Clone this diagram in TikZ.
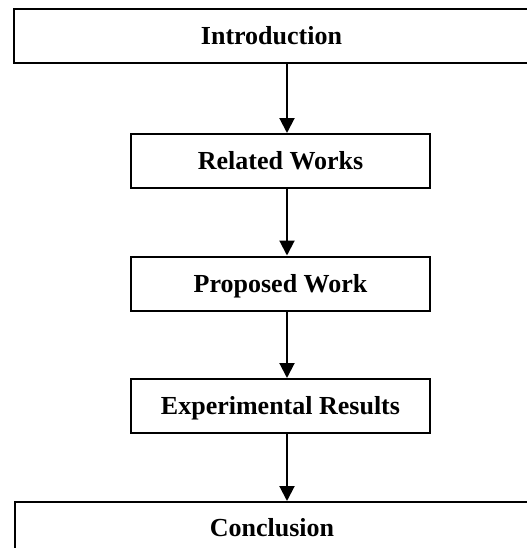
\documentclass[tikz,border=0pt]{standalone}
\usepackage{fontspec}
\setmainfont{Liberation Serif}
\usetikzlibrary{arrows.meta}

\begin{document}
\begin{tikzpicture}[x=0.5pt,y=-0.5pt,
    chapter/.style={draw,line width=1pt,minimum height=27pt,inner sep=0pt,
      text height=8.6pt,text depth=0pt,
      font=\fontsize{13}{15}\selectfont\bfseries},
    section/.style={chapter,minimum width=149.5pt},
    flow/.style={-{Triangle[length=7.5pt,width=7.5pt]},line width=1pt}]
  \clip (0,0) rectangle (527,548);

  \node[chapter,minimum width=257.5pt] (intro) at (271.5,36) {Introduction};
  \node[section] (related) at (280.5,161) {Related Works};
  \node[section] (proposed) at (280.5,283.5) {Proposed Work};
  \node[section] (results) at (280.5,406) {Experimental Results};
  \node[chapter,minimum width=257pt,minimum height=26pt] (concl) at (272,528) {Conclusion};

  \coordinate (col) at (287,0);
  \draw[flow] (intro.south -| col) -- (related.north -| col);
  \draw[flow] (related.south -| col) -- (proposed.north -| col);
  \draw[flow] (proposed.south -| col) -- (results.north -| col);
  \draw[flow] (results.south -| col) -- (concl.north -| col);
\end{tikzpicture}
\end{document}
